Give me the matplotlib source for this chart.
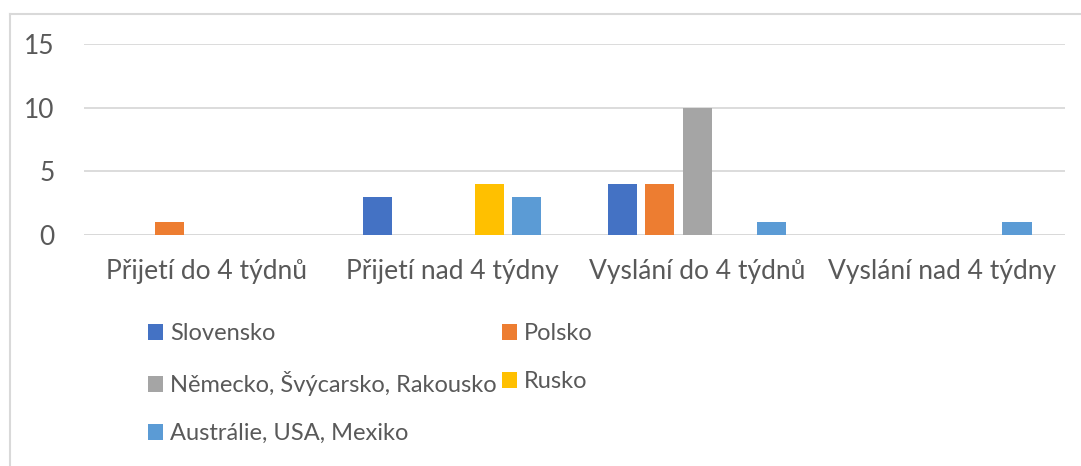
import matplotlib.pyplot as plt
from matplotlib.lines import Line2D
import numpy as np

categories = ['Přijetí do 4 týdnů', 'Přijetí nad 4 týdny', 'Vyslání do 4 týdnů', 'Vyslání nad 4 týdny']
series_names = ['Slovensko', 'Polsko', 'Německo, Švýcarsko, Rakousko', 'Rusko', 'Austrálie, USA, Mexiko']
slovensko = [0, 3, 4, 0]
polsko = [1, 0, 4, 0]
nemecko = [0, 0, 10, 0]
rusko = [0, 4, 0, 0]
australie = [0, 3, 1, 1]
colors = ['#4472C4', '#ED7D31', '#A5A5A5', '#FFC000', '#5B9BD5']

plt.rcParams['font.family'] = ['Lato', 'DejaVu Sans']
text_color = '#595959'
fs = 19

W, H = 1081, 466
fig = plt.figure(figsize=(W / 100, H / 100), dpi=100)
ax = fig.add_axes([84 / W, 1 - 235 / H, (1065 - 84) / W, (235 - 44) / H])

x = np.arange(len(categories))
pitch, width = 0.152, 0.119
handles = []
for i, (vals, name) in enumerate(zip([slovensko, polsko, nemecko, rusko, australie], series_names)):
    b = ax.bar(x + (i - 2) * pitch, vals, width, color=colors[i], label=name, zorder=3)
    handles.append(b)

ax.set_xlim(-0.5, 3.5)
ax.set_ylim(0, 15)
ax.set_yticks([0, 5, 10, 15])
ax.set_xticks(x)
ax.set_xticklabels(categories)
ax.yaxis.grid(True, color='#d9d9d9', linewidth=1.3, zorder=0)
ax.tick_params(axis='both', length=0, labelsize=fs, labelcolor=text_color)
ax.tick_params(axis='x', pad=17)
ax.tick_params(axis='y', pad=21)
for s in ax.spines.values():
    s.set_visible(False)
ax.axhline(0, color='#d9d9d9', linewidth=1.3, zorder=2)

# legend, row-major order in two columns
order = [0, 2, 4, 1, 3]
leg = fig.legend([handles[k] for k in order], [series_names[k] for k in order],
                 ncol=2, loc='upper left', bbox_to_anchor=(148 / W, 1 - 323 / H),
                 frameon=False, fontsize=17, handlelength=0.64, handleheight=0.64,
                 handletextpad=0.3, columnspacing=0.2, labelspacing=1.15, borderpad=0,
                 borderaxespad=0)
for t in leg.get_texts():
    t.set_color(text_color)

# chart border
fig.add_artist(Line2D([9.5 / W, 1], [1 - 13.5 / H, 1 - 13.5 / H], color='#d9d9d9', linewidth=1.5))
fig.add_artist(Line2D([9.5 / W, 9.5 / W], [0, 1 - 13.5 / H], color='#d9d9d9', linewidth=1.5))

fig.savefig('out.png', dpi=100)
